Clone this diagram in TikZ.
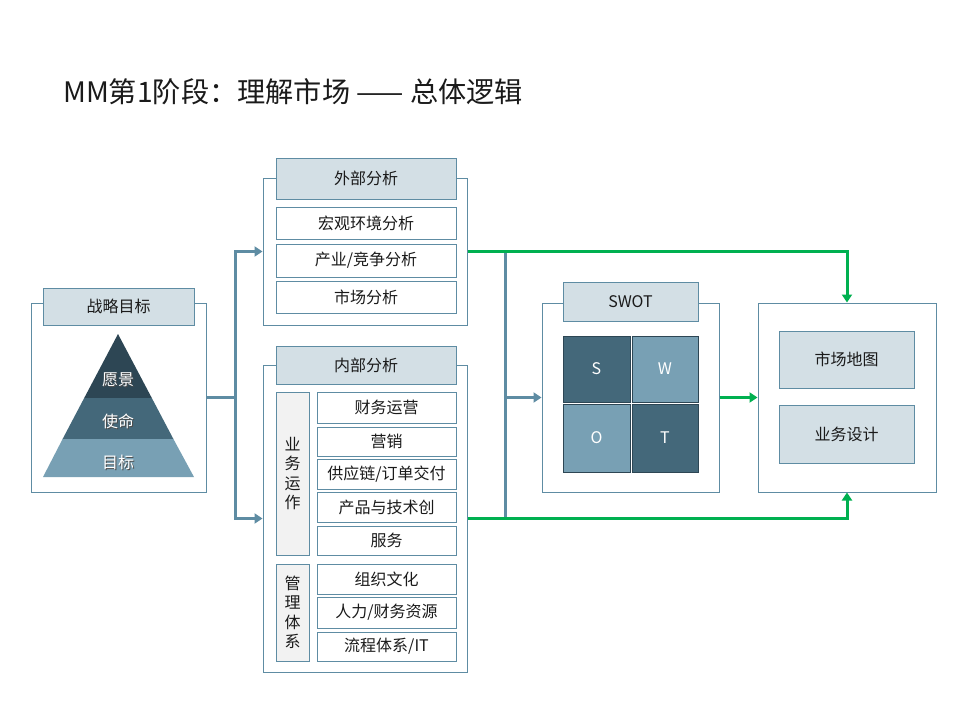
\documentclass[tikz,border=0pt]{standalone}
\usepackage{fontspec}
\setmainfont{Noto Sans CJK SC}
\usetikzlibrary{arrows.meta}

\definecolor{edge}{HTML}{5E8CA3}
\definecolor{headfill}{HTML}{D3DFE5}
\definecolor{sidefill}{HTML}{F2F2F2}
\definecolor{deep}{HTML}{2D4654}
\definecolor{mid}{HTML}{44687A}
\definecolor{light}{HTML}{78A0B4}
\definecolor{flow}{HTML}{00B050}
\definecolor{ink}{HTML}{1A1A1A}

\tikzset{
  lab/.style={font=\fontsize{16}{19}\selectfont, text=ink},
  frame/.style={draw=edge, line width=1pt, fill=white, inner sep=0},
  header/.style={draw=edge, line width=1pt, fill=headfill, inner sep=0, lab},
  item/.style={draw=edge, line width=1pt, fill=white, inner sep=0, lab},
  side/.style={draw=edge, line width=1pt, fill=sidefill, inner sep=0, lab, align=center},
  cell/.style={draw=deep, line width=1pt, inner sep=0, text=white, font=\fontsize{16}{19}\selectfont},
  pyrlab/.style={text=white, font=\fontsize{16}{19}\selectfont, inner sep=0},
  pyrshade/.style={text=black!70, font=\fontsize{16}{19}\selectfont, inner sep=0},
  trunk/.style={draw=edge, line width=3pt},
  feed/.style={trunk, -{Triangle[length=8pt,width=10pt]}},
  result/.style={draw=flow, line width=3pt, line join=miter, -{Triangle[length=8pt,width=10pt]}},
}

\begin{document}
\begin{tikzpicture}[x=1pt, y=-1pt]
  \useasboundingbox (0,0) rectangle (960,720);
  \fill[white] (0,0) rectangle (960,720);

  % heading
  \node[anchor=west, inner sep=0, text=ink, font=\fontsize{28.2}{32}\selectfont] (title) at (63,92)
    {MM第1阶段：理解市场 —— 总体逻辑};

  % strategic goals with pyramid
  \node[frame, minimum width=175, minimum height=189] (str) at (118.5,397.5) {};
  \node[header, minimum width=151, minimum height=37] (strhead) at (118.5,306.5) {战略目标};
  \fill[deep]  (118,334) -- (151.8,398) -- (84.2,398) -- cycle;
  \fill[mid]   (84.2,398) -- (151.8,398) -- (173.4,439) -- (62.6,439) -- cycle;
  \fill[light] (62.6,439) -- (173.4,439) -- (194,477) -- (43,477) -- cycle;
  \node[pyrshade] at (119,381) {愿景};
  \node[pyrlab] (vision) at (118,380) {愿景};
  \node[pyrshade] at (119,422) {使命};
  \node[pyrlab] (mission) at (118,421) {使命};
  \node[pyrshade] at (119,463) {目标};
  \node[pyrlab] (goal) at (118,462) {目标};

  % external analysis
  \node[frame, minimum width=204, minimum height=147] (ext) at (365,251.5) {};
  \node[header, minimum width=180, minimum height=41] (exthead) at (366,178.5) {外部分析};
  \node[item, minimum width=180, minimum height=32] (macro) at (366,223) {宏观环境分析};
  \node[item, minimum width=180, minimum height=33] (industry) at (366,260.5) {产业/竞争分析};
  \node[item, minimum width=180, minimum height=32] (market) at (366,297) {市场分析};

  % internal analysis
  \node[frame, minimum width=204, minimum height=307] (int) at (365,518.5) {};
  \node[header, minimum width=180, minimum height=38] (inthead) at (366,365) {内部分析};
  \node[side, minimum width=33, minimum height=163, font=\fontsize{16}{19.5}\selectfont] (ops) at (292.5,473.5) {业\\务\\运\\作};
  \node[side, minimum width=33, minimum height=97, font=\fontsize{16}{19.5}\selectfont] (mgmt) at (292.5,612.5) {管\\理\\体\\系};
  \node[item, minimum width=139, minimum height=31] (fin)    at (386.5,407.5) {财务运营};
  \node[item, minimum width=139, minimum height=29] (sales)  at (386.5,441.5) {营销};
  \node[item, minimum width=139, minimum height=30] (supply) at (386.5,474)   {供应链/订单交付};
  \node[item, minimum width=139, minimum height=30] (prod)   at (386.5,507)   {产品与技术创};
  \node[item, minimum width=139, minimum height=29] (serv)   at (386.5,540.5) {服务};
  \node[item, minimum width=139, minimum height=30] (org)    at (386.5,579)   {组织文化};
  \node[item, minimum width=139, minimum height=31] (hr)     at (386.5,612.5) {人力/财务资源};
  \node[item, minimum width=139, minimum height=29] (proc)   at (386.5,646.5) {流程体系/IT};

  % SWOT
  \node[frame, minimum width=177, minimum height=189] (swot) at (630.5,397.5) {};
  \node[header, minimum width=135, minimum height=39] (swothead) at (630.5,301.5) {SWOT};
  \node[cell, fill=mid,   minimum width=67, minimum height=66] (S) at (596.5,369) {S};
  \node[cell, fill=light, minimum width=66, minimum height=66] (W) at (665,369)   {W};
  \node[cell, fill=light, minimum width=67, minimum height=68] (O) at (596.5,438) {O};
  \node[cell, fill=mid,   minimum width=66, minimum height=68] (T) at (665,438)   {T};

  % results
  \node[frame, minimum width=178, minimum height=189] (res) at (847,397.5) {};
  \node[header, minimum width=135, minimum height=57] (map) at (846.5,359.5) {市场地图};
  \node[header, minimum width=135, minimum height=58] (design) at (846.5,434) {业务设计};

  % feeds from the strategic goals
  \coordinate (fork) at (235,397.5);
  \draw[trunk] (str.east) -- (fork);
  \draw[trunk, line cap=rect] (fork |- ext.west) -- (fork |- int.west);
  \draw[feed] (fork |- ext.west) -- (ext.west);
  \draw[feed] (fork |- int.west) -- (int.west);

  % analyses into SWOT
  \coordinate (bus) at (505,397.5);
  \draw[trunk] (bus |- ext.east) -- (bus |- int.east);
  \draw[feed] (bus) -- (swot.west);

  % flows to the results
  \draw[result] (ext.east) -| (res.north);
  \draw[result] (int.east) -| (res.south);
  \draw[result] (swot.east) -- (res.west);
\end{tikzpicture}
\end{document}
